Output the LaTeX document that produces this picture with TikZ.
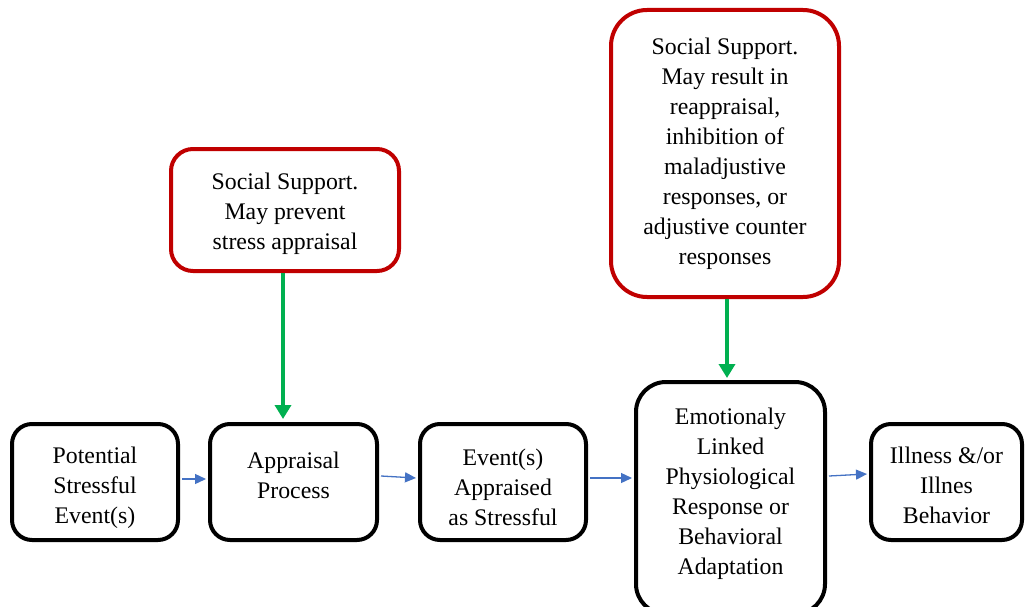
\documentclass[tikz,border=0pt]{standalone}
\usepackage{fontspec}
\setmainfont{Liberation Serif}
\usetikzlibrary{arrows.meta}
\definecolor{boxred}{HTML}{C00000}
\definecolor{flowgreen}{HTML}{00B050}
\definecolor{flowblue}{HTML}{4472C4}
\begin{document}
\begin{tikzpicture}[x=1pt,y=-1pt,
  txt/.style={font=\fontsize{23.8}{30}\selectfont, align=center, inner sep=0pt},
  stage/.style={draw=black, line width=4pt, rounded corners=20pt, inner sep=0pt},
  support/.style={draw=boxred, line width=4pt, rounded corners=22pt, fill=white, inner sep=0pt},
  prevent/.style={draw=flowgreen, line width=4pt, -{Triangle[length=14pt,width=16pt]}},
  flow/.style={draw=flowblue, line width=1.3pt, -{Triangle[length=11pt,width=10pt]}}]
\useasboundingbox (0,0) rectangle (1027,607);
\fill[white] (0,0) rectangle (1027,607);
\begin{scope}
\clip (0,0) rectangle (1027,607);
% main chain of stages
\node[stage, minimum width=166pt, minimum height=116pt] (pot) at (95,482) {};
\node[stage, minimum width=167pt, minimum height=116pt] (app) at (293.5,482) {};
\node[stage, minimum width=166pt, minimum height=116pt] (evt) at (503,482) {};
\node[stage, minimum width=189pt, minimum height=232pt, rounded corners=30pt] (emo) at (730.5,498) {};
\node[stage, minimum width=151pt, minimum height=116pt] (ill) at (946.5,482) {};
\node[txt] (potT) at ([shift={(0,6)}]pot.center) {Potential\\Stressful\\Event(s)};
\node[txt] (appT) at ([shift={(0,-7)}]app.center) {Appraisal\\Process};
\node[txt] (evtT) at ([shift={(0,5)}]evt.center) {Event(s)\\Appraised\\as Stressful};
\node[txt] (emoT) at ([shift={(0,-4)}]emo.center) {Emotionaly\\Linked\\Physiological\\Response or\\Behavioral\\Adaptation};
\node[txt] (illT) at ([shift={(0,3)}]ill.center) {Illness \&/or\\Illnes\\Behavior};
% social support boxes
\node[support, minimum width=228pt, minimum height=122pt] (ss1) at (285,210) {};
\node[support, minimum width=228pt, minimum height=287pt, rounded corners=36pt] (ss2) at (725,153.5) {};
\node[txt] (ss1T) at ([shift={(0,4)}]ss1.center) {Social Support.\\May prevent\\stress appraisal};
\node[txt] (ss2T) at ([shift={(0,0.5)}]ss2.center) {Social Support.\\May result in\\reappraisal,\\inhibition of\\maladjustive\\responses, or\\adjustive counter\\responses};
% connectors
\draw[prevent] ([xshift=-2pt]ss1.south) -- ([xshift=-2pt,yshift=3pt]ss1.south |- app.north);
\draw[prevent] ([xshift=2pt]ss2.south) -- ([xshift=2pt,yshift=2pt]ss2.south |- emo.north);
\draw[flow] ([shift={(2,-3)}]pot.east) -- ([shift={(-2,-3)}]app.west);
\draw[flow] ([shift={(2,-6)}]app.east) -- ([shift={(-2,-4)}]evt.west);
\draw[flow] ([shift={(2,-4)}]evt.east) -- ([shift={(-2,-20)}]emo.west);
\draw[flow] ([shift={(2,-22)}]emo.east) -- ([shift={(-2,-8)}]ill.west);
\end{scope}
\end{tikzpicture}
\end{document}
